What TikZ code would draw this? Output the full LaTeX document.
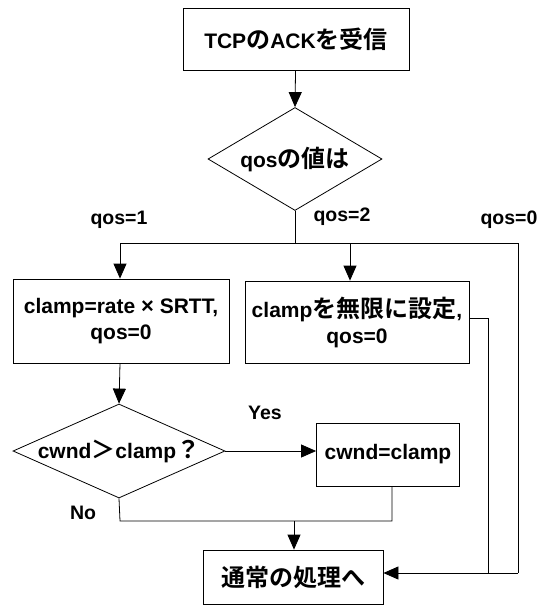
\documentclass[tikz,border=0pt]{standalone}
\usepackage{fontspec}
\setmainfont{Liberation Sans}
\newfontfamily\jpf{Noto Sans CJK JP}[BoldFont={Noto Sans CJK JP Bold}]
\newcommand\jp[1]{{\jpf\fontsize{24}{28}\selectfont #1}}
\usetikzlibrary{shapes.geometric,arrows.meta}
\begin{document}
\begin{tikzpicture}[x=1pt,y=-1pt,
  line width=0.8pt,
  txt/.style={font=\fontsize{21}{25}\selectfont\bfseries},
  procbox/.style={draw,rectangle,inner sep=0pt,align=center,txt},
  decis/.style={draw,diamond,inner sep=0pt},
  lbl/.style={font=\fontsize{19.5}{23}\selectfont\bfseries,inner sep=0pt},
  arr/.style={-{Triangle[length=15pt,width=13pt]}}]
\useasboundingbox (0,0) rectangle (542,606);

\node[procbox,minimum width=226pt,minimum height=62pt] (start) at (296,39) {TCP\jp{の}ACK\jp{を受信}};
\node[decis,minimum width=174pt,minimum height=103pt] (qos) at (295,159) {};
\node[txt,inner sep=0pt] (qost) at (qos.center) {qos\jp{の値は}};
\node[procbox,minimum width=216pt,minimum height=84pt] (b1) at (121,321) {clamp=rate {\fontsize{22}{24}\selectfont ×} SRTT,\\[1pt]qos=0};
\node[procbox,minimum width=224pt,minimum height=82pt] (b2) at (357,322) {clamp\jp{を無限に設定},\\[1pt]qos=0};
\node[decis,minimum width=212pt,minimum height=94pt] (cw) at (119,451) {};
\node[txt,inner sep=0pt] (cwt) at (cw.center) {cwnd\jp{＞}clamp\jp{？}};
\node[procbox,minimum width=143pt,minimum height=63pt] (cb) at (388,454.5) {cwnd=clamp};
\node[procbox,minimum width=180pt,minimum height=54pt] (fin) at (293,577) {\jp{通常の処理へ}};

\coordinate (split) at (295,243);
\coordinate (lft) at (120,243);
\coordinate (mid) at (350,243);
\coordinate (rgt) at (518,243);
\coordinate (rgtb) at (518,573);
\coordinate (b2r) at (488,318);
\coordinate (b2rb) at (488,573);
\coordinate (nob) at (120,521);
\coordinate (yesb) at (392,521);
\coordinate (join) at (294,521);

\draw[arr] (start) -- (qos.north);
\draw (qos.south) -- (split);
\draw (lft) -- (rgt);
\draw[arr] (lft) -- (lft |- b1.north);
\draw[arr] (mid) -- (mid |- b2.north);
\draw (rgt) -- (rgtb);
\draw[arr] (rgtb) -- (fin.east |- rgtb);
\draw (b2.east |- b2r) -- (b2r) -- (b2rb);
\draw[arr] (lft |- b1.south) -- (cw.north);
\draw[arr] (cw.east) -- (cb.west |- cw.east);
\draw (cw.south) -- (nob) -- (yesb) -- (yesb |- cb.south);
\draw[arr] (join) -- (join |- fin.north);

\node[lbl] (l1) at (119,220) {qos=1};
\node[lbl] (l2) at (342,217) {qos=2};
\node[lbl] (l0) at (509,220) {qos=0};
\node[lbl] (ly) at (265,413) {Yes};
\node[lbl] (ln) at (83,513) {No};
\end{tikzpicture}
\end{document}
